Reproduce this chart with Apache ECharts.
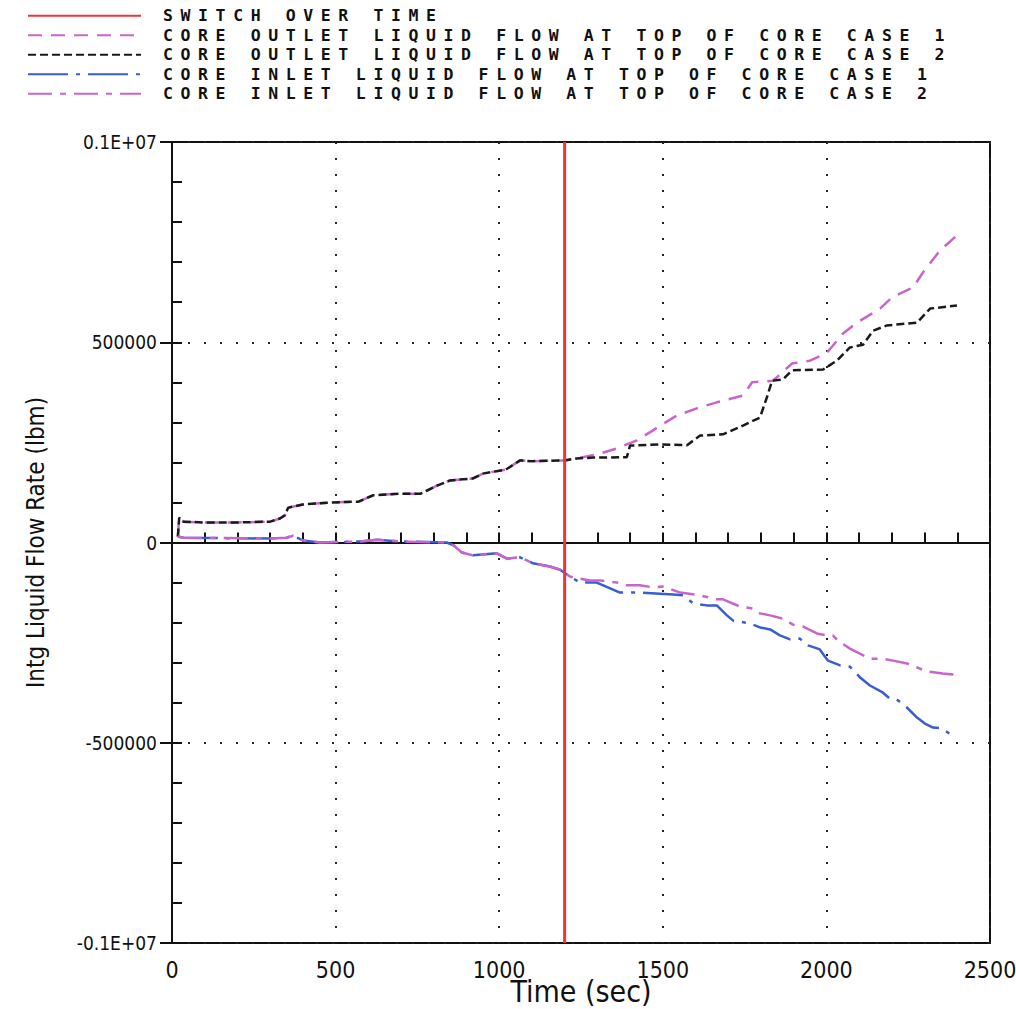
<!DOCTYPE html>
<html>
<head>
<meta charset="utf-8">
<script src="https://cdn.jsdelivr.net/npm/echarts@6/dist/echarts.min.js"></script>
<style>
html,body{margin:0;padding:0;background:#fff;}
#chart{width:1016px;height:1009px;}
#chart text[style*="Sans Mono"], #chart text[font-family*="Sans Mono"]{letter-spacing:7.6px;}
</style>
</head>
<body>
<div id="chart"></div>
<script>
// ---- data (time in sec, value in lbm) ----
const legendNames = [
  'SWITCH OVER TIME',
  'CORE OUTLET LIQUID FLOW AT TOP OF CORE CASE 1',
  'CORE OUTLET LIQUID FLOW AT TOP OF CORE CASE 2',
  'CORE INLET LIQUID FLOW AT TOP OF CORE CASE 1',
  'CORE INLET LIQUID FLOW AT TOP OF CORE CASE 2'
];
const switchTime = 1200;
const xTickLabels = [0, 500, 1000, 1500, 2000, 2500];
const yTickLabels = {'1000000':'0.1E+07','500000':'500000','0':'0','-500000':'-500000','-1000000':'-0.1E+07'};

const outletShared = [[18,15000],[22,62000],[35,52000],[100,50000],[200,50000],[300,52000],[330,60000],[345,68000],[355,87000],[400,95000],[490,100000],[570,102000],[615,118000],[700,122000],[760,122000],[810,142000],[850,155000],[920,160000],[950,172000],[1020,182000],[1064,205000],[1100,203000],[1200,205000],[1237,210000]];
const outletCase1 = [[1308,222000],[1360,235000],[1421,255000],[1470,280000],[1492,292000],[1543,317000],[1604,335000],[1665,350000],[1745,367000],[1773,400000],[1837,404000],[1895,447000],[1950,454000],[2002,474000],[2051,522000],[2093,549000],[2164,584000],[2200,612000],[2265,637000],[2295,674000],[2347,729000],[2399,767000]];
const outletCase2 = [[1287,212000],[1390,213000],[1400,242000],[1491,245000],[1574,243000],[1614,267000],[1684,270000],[1745,292000],[1797,312000],[1818,362000],[1834,404000],[1867,407000],[1895,430000],[1990,432000],[2032,454000],[2072,487000],[2112,494000],[2143,529000],[2185,542000],[2277,549000],[2317,584000],[2399,592000]];

const inletShared = [[18,15000],[35,12000],[150,11000],[300,10000],[350,12000],[370,17000],[400,5000],[452,0],[575,2500],[627,7000],[697,2500],[840,0],[860,-7000],[886,-25000],[920,-32000],[993,-27000],[1024,-40000],[1064,-37000],[1103,-52000],[1155,-60000],[1186,-68000],[1216,-85000]];
const inletCase1 = [[1247,-100000],[1298,-100000],[1318,-107000],[1369,-125000],[1430,-125000],[1491,-128000],[1532,-130000],[1562,-132000],[1593,-152000],[1634,-157000],[1665,-157000],[1696,-182000],[1715,-195000],[1767,-202000],[1797,-212000],[1828,-217000],[1858,-232000],[1889,-242000],[1919,-240000],[1944,-257000],[1980,-267000],[1993,-282000],[2005,-295000],[2042,-307000],[2072,-310000],[2103,-337000],[2133,-357000],[2173,-375000],[2194,-390000],[2215,-392000],[2246,-412000],[2277,-437000],[2301,-452000],[2326,-462000],[2353,-464000],[2384,-482000],[2393,-484000]];
const inletCase2 = [[1226,-87000],[1277,-95000],[1308,-95000],[1360,-100000],[1390,-107000],[1430,-107000],[1470,-112000],[1501,-110000],[1553,-125000],[1614,-132000],[1665,-142000],[1684,-142000],[1736,-160000],[1776,-165000],[1797,-177000],[1828,-182000],[1867,-190000],[1898,-205000],[1929,-210000],[1971,-227000],[2002,-232000],[2020,-232000],[2035,-245000],[2072,-265000],[2133,-290000],[2173,-290000],[2204,-295000],[2246,-302000],[2277,-312000],[2307,-322000],[2356,-327000],[2393,-330000]];

// ---- chart ----
const FONT = '"DejaVu Sans Condensed", "DejaVu Sans", sans-serif';
const chart = echarts.init(document.getElementById('chart'), null, {renderer: 'svg'});
const dotted = {color: '#222', width: 2, type: [2, 14]};
function lineSeries(name, data, color, dash, width) {
  return {
    name, type: 'line', data, xAxisIndex: 0, yAxisIndex: 0,
    showSymbol: false, symbol: 'none', silent: true,
    lineStyle: {color, width, type: dash},
    itemStyle: {color},
    emphasis: {disabled: true}
  };
}
chart.setOption({
  animation: false,
  backgroundColor: '#fff',
  legend: {
    orient: 'vertical', left: 27, top: 6, padding: 0,
    itemWidth: 113, itemHeight: 14, itemGap: 0,
    selectedMode: false,
    itemStyle: {opacity: 0},
    data: legendNames,
    textStyle: {fontFamily: '"DejaVu Sans Mono"', fontWeight: 'bold', fontSize: 16.5, lineHeight: 19.5, color: '#111', padding: [0, 0, 0, 17]}
  },
  grid: {left: 172, right: 26, top: 142, bottom: 66, outerBoundsMode: 'none', containLabel: false,
    show: true, borderColor: '#111', borderWidth: 2, backgroundColor: 'transparent'},
  xAxis: [{
    type: 'value', min: 0, max: 2500, interval: 100, position: 'bottom',
    name: 'Time (sec)', nameLocation: 'middle', nameGap: 33, nameMoveOverlap: false,
    nameTextStyle: {fontFamily: FONT, fontSize: 30, color: '#111'},
    axisLine: {show: true, lineStyle: {color: '#111', width: 2}},
    axisTick: {show: true, inside: true, length: 10, lineStyle: {color: '#111', width: 2}},
    axisLabel: {margin: 15, fontFamily: FONT, fontSize: 23, color: '#111',
      formatter: v => xTickLabels.includes(Math.round(v)) ? String(Math.round(v)) : ''},
    splitLine: {show: false}
  }, {
    type: 'value', min: 0, max: 2500, interval: 500, position: 'bottom', offset: 0,
    axisLine: {show: false}, axisTick: {show: false}, axisLabel: {show: false},
    splitLine: {show: true, lineStyle: dotted}
  }],
  yAxis: [{
    type: 'value', min: -1000000, max: 1000000, interval: 100000, position: 'left',
    name: 'Intg Liquid Flow Rate (lbm)', nameLocation: 'middle', nameGap: 124, nameRotate: 90, nameMoveOverlap: false,
    nameTextStyle: {fontFamily: FONT, fontSize: 24, color: '#111'},
    axisLine: {show: true, lineStyle: {color: '#111', width: 2}},
    axisTick: {show: true, inside: true, length: 10, lineStyle: {color: '#111', width: 2}},
    axisLabel: {margin: 15, fontFamily: FONT, fontSize: 19, color: '#111',
      formatter: v => yTickLabels[String(Math.round(v))] || ''},
    splitLine: {show: false}
  }, {
    type: 'value', min: -1000000, max: 1000000, interval: 500000, position: 'left', offset: 0,
    axisLine: {show: false},
    axisTick: {show: true, inside: false, length: 12, lineStyle: {color: '#111', width: 2}},
    axisLabel: {show: false},
    splitLine: {show: true, lineStyle: dotted}
  }],
  series: [
    Object.assign(lineSeries(legendNames[0], [[switchTime, -1000000], [switchTime, 1000000]], '#f03535', 'solid', 3), {z: 5}),
    lineSeries(legendNames[1], outletShared.concat(outletCase1), '#c964cc', [14, 9], 2.5),
    lineSeries(legendNames[2], outletShared.concat(outletCase2), '#1a1a1a', [8, 4], 2.5),
    lineSeries(legendNames[3], inletShared.concat(inletCase1), '#3a5cd4', [40, 8, 4, 8], 2.5),
    lineSeries(legendNames[4], inletShared.concat(inletCase2), '#c964cc', [24, 8, 6, 8], 2.5)
  ]
});
function spaceLegend() {
  document.querySelectorAll('#chart text').forEach(t => {
    if (legendNames.includes(t.textContent.trim())) t.setAttribute('letter-spacing', '7.6');
  });
}
chart.on('finished', spaceLegend);
spaceLegend();
</script>
</body>
</html>
